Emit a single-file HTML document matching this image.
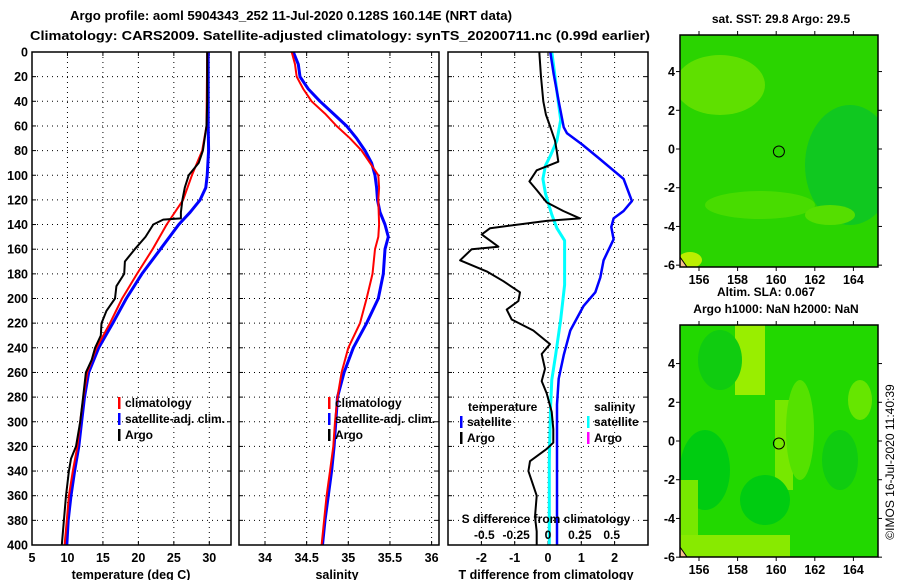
<!DOCTYPE html>
<html><head><meta charset="utf-8"><style>
html,body{margin:0;padding:0;background:#fff}
svg{display:block;font-family:"Liberation Sans",sans-serif;font-weight:bold}
</style></head><body>
<svg id="fig" width="900" height="580" viewBox="0 0 900 580" xmlns="http://www.w3.org/2000/svg">
<text x="291" y="20" font-size="13" text-anchor="middle" textLength="442" lengthAdjust="spacingAndGlyphs">Argo profile: aoml 5904343_252 11-Jul-2020 0.128S 160.14E (NRT data)</text>
<text x="340" y="40" font-size="13" text-anchor="middle" textLength="620" lengthAdjust="spacingAndGlyphs">Climatology: CARS2009. Satellite-adjusted climatology: synTS_20200711.nc (0.99d earlier)</text>
<g id="p1"></g>
<g id="p2"></g>
<g id="p3"></g>
<g id="maps"></g>
<text transform="translate(894,462) rotate(-90)" font-size="12" font-weight="normal" text-anchor="middle">©IMOS 16-Jul-2020 11:40:39</text>
</svg>
<script>
// ---- data ----
const depthTicks=[0,20,40,60,80,100,120,140,160,180,200,220,240,260,280,300,320,340,360,380,400];
const tempTicks=[5,10,15,20,25,30];
const salTicks=[34,34.5,35,35.5,36];
const tdiffTicks=[-2,-1,0,1,2];
const sdiffTicks=[-0.5,-0.25,0,0.25,0.5];
const sdiffTickLabels=["-0.5","-0.25","0","0.25","0.5"];
const lonTicks=[156,158,160,162,164];
const latTicks=[4,2,0,-2,-4,-6];

const climTDepth=[0,60,80,100,120,140,160,180,200,220,240,260,280,300,320,340,360,380,400];
const climT=[29.7,29.6,29.0,27.55,26.3,24.0,22.0,19.8,17.7,16.0,14.1,12.8,12.25,11.8,11.4,10.75,10.2,9.9,9.6];
const satTDepth=[0,60,80,100,110,120,130,140,160,180,200,220,240,260,280,300,320,340,360,380,400];
const satT=[29.85,29.85,29.9,29.7,29.5,28.7,27.3,25.7,23.1,20.5,18.3,16.4,14.4,13.0,12.4,12.0,11.6,11.0,10.5,10.1,9.9];
const argoTDepth=[0,40,60,80,90,100,110,120,130,135,136,140,150,160,170,180,190,200,210,220,230,240,250,260,280,300,320,330,340,360,380,400];
const argoT=[29.7,29.7,29.6,29.1,28.5,27.1,26.55,26.2,26.0,26.0,23.5,22.1,21.0,19.5,18.1,18.0,16.9,16.7,15.5,14.8,14.7,13.9,13.4,12.6,12.2,11.8,11.2,10.5,10.2,9.8,9.5,9.2];

const climSDepth=[0,10,20,30,40,50,60,70,80,90,100,110,120,140,150,160,180,200,220,240,260,280,300,320,340,360,380,400];
const climS=[34.32,34.36,34.38,34.46,34.56,34.72,34.86,35.02,35.16,35.26,35.36,35.37,35.36,35.37,35.36,35.32,35.29,35.22,35.14,35.0,34.92,34.87,34.84,34.82,34.78,34.74,34.71,34.68];
const satSDepth=[0,10,20,30,40,50,60,70,80,90,100,110,120,130,140,150,160,180,200,220,240,260,280,300,320,340,360,380,400];
const satS=[34.34,34.4,34.42,34.52,34.66,34.82,34.98,35.1,35.2,35.28,35.32,35.34,35.35,35.38,35.44,35.48,35.44,35.42,35.36,35.22,35.06,34.95,34.87,34.85,34.83,34.8,34.76,34.72,34.69];

const argoTdDepth=[0,20,40,51,60,72,80,89,96,105,112,122,129,135,137,143,148,158,160,169,178,186,195,202,209,217,226,237,245,257,267,277,292,306,317,322,332,340,360,377,389,400];
const argoTd=[-0.26,-0.21,-0.14,-0.06,0.06,0.21,0.26,0.31,-0.34,-0.56,-0.34,-0.04,0.46,0.96,-0.04,-1.74,-1.99,-1.49,-2.29,-2.64,-1.84,-1.34,-0.84,-0.89,-1.24,-1.09,-0.44,0.06,-0.19,-0.09,-0.19,-0.04,0.11,0.16,0.16,-0.04,-0.54,-0.59,-0.34,-0.39,-0.34,-0.34];
const satTdDepth=[0,18,40,61,66,75,86,103,121,129,135,142,152,169,183,195,206,226,246,265,286,303,400];
const satTd=[0.07,0.17,0.32,0.47,0.57,1.02,1.52,2.27,2.52,2.27,1.97,1.90,1.97,1.67,1.57,1.42,1.07,0.67,0.47,0.32,0.27,0.27,0.27];
const satSdDepth=[0,40,55,72,84,92,103,115,132,143,153,160,189,217,246,266,289,332,400];
const satSd=[0.03,0.08,0.10,0.07,0.02,-0.02,-0.04,-0.02,0.03,0.07,0.13,0.13,0.13,0.10,0.06,0.03,0.02,0.01,0.01];

const argoLon=[160.14];
const argoLat=[-0.128];

// ---- geometry ----
const NS="http://www.w3.org/2000/svg";
const Y0=52,Y1=545;
const yD=d=>Y0+(d/400)*(Y1-Y0);
function mk(tag,attrs,parent){const e=document.createElementNS(NS,tag);for(const k in attrs)e.setAttribute(k,attrs[k]);parent.appendChild(e);return e;}
function txt(parent,x,y,s,anchor,size){const t=mk('text',{x:x,y:y,'font-size':size||12,'text-anchor':anchor||'start'},parent);t.textContent=s;return t;}
const p1=document.getElementById('p1'),p2=document.getElementById('p2'),p3=document.getElementById('p3'),maps=document.getElementById('maps');

function panel(g,x0,x1,xs,ticks,labels,showY){
  // grid
  ticks.forEach(v=>{const x=xs(v);const l=mk('line',{x1:x,x2:x,y1:Y0,y2:Y1,stroke:'#000','stroke-width':1,'stroke-dasharray':'1,4'},g);});
  depthTicks.forEach(d=>{const y=yD(d);if(d>0&&d<400){const l=mk('line',{x1:x0,x2:x1,y1:y,y2:y,stroke:'#000','stroke-width':1,'stroke-dasharray':'1,4'},g);}
    mk('line',{x1:x0,x2:x0+4,y1:y,y2:y,stroke:'#000'},g);mk('line',{x1:x1-4,x2:x1,y1:y,y2:y,stroke:'#000'},g);
    if(showY){const t=txt(g,28,y+4.5,String(d),'end',12.5);}});
  ticks.forEach((v,i)=>{const x=xs(v);mk('line',{x1:x,x2:x,y1:Y1-4,y2:Y1,stroke:'#000'},g);mk('line',{x1:x,x2:x,y1:Y0,y2:Y0+4,stroke:'#000'},g);
    if(labels){const t=txt(g,x,562,labels[i],'middle',12.5);}});
}
function frame(g,x0,x1){const r=mk('rect',{x:x0,y:Y0,width:x1-x0,height:Y1-Y0,fill:'none',stroke:'#000','stroke-width':1.5},g);}
function series(g,xs,vals,depths,color,w,name){
  const pts=vals.map((v,i)=>xs(v).toFixed(1)+','+yD(depths[i]).toFixed(1)).join(' ');
  const p=mk('polyline',{points:pts,fill:'none',stroke:color,'stroke-width':w,'stroke-linejoin':'round'},g);
  
  
}
function legendMark(g,x,y,color){mk('rect',{x:x,y:y-11,width:2.5,height:12,fill:color},g);}

// panel 1 temperature
const xT=v=>32+(v-5)*(209.3-32)/25;
panel(p1,32,231,xT,tempTicks,tempTicks.map(String),true);
series(p1,xT,satT,satTDepth,'#0000ff',3,'satellite-temperature-line');
series(p1,xT,climT,climTDepth,'#ff0000',2,'climatology-temperature-line');
series(p1,xT,argoT,argoTDepth,'#000000',2,'argo-temperature-line');
frame(p1,32,231);
[['climatology','#ff0000',408],['satellite-adj. clim.','#0000ff',424],['Argo','#000',440]].forEach(r=>{legendMark(p1,118,r[2],r[1]);const t=txt(p1,125,r[2]-1,r[0],'start',12);});
{const t=txt(p1,131,579,'temperature (deg C)','middle',12.5);}

// panel 2 salinity
const xS=v=>265+(v-34)*83.3;
panel(p2,239,439,xS,salTicks,salTicks.map(String),false);
series(p2,xS,satS,satSDepth,'#0000ff',3,'satellite-salinity-line');
series(p2,xS,climS,climSDepth,'#ff0000',2,'climatology-salinity-line');
frame(p2,239,439);
[['climatology','#ff0000',408],['satellite-adj. clim.','#0000ff',424],['Argo','#000',440]].forEach(r=>{legendMark(p2,328,r[2],r[1]);const t=txt(p2,335,r[2]-1,r[0],'start',12);});
{const t=txt(p2,337,579,'salinity','middle',12.5);}

// panel 3 differences
const xTd=v=>548+v*33.3;
const xSd=v=>548+v*127.4;
panel(p3,448,648,xTd,tdiffTicks,tdiffTicks.map(String),false);
series(p3,xSd,satSd,satSdDepth,'#00ffff',3,'satellite-salinity-difference-line');
series(p3,xTd,satTd,satTdDepth,'#0000ff',2.5,'satellite-temperature-difference-line');
series(p3,xTd,argoTd,argoTdDepth,'#000000',2,'argo-temperature-difference-line');
frame(p3,448,648);
{let t=txt(p3,468,411,'temperature','start',12);
 t=txt(p3,594,411,'salinity','start',12);
 legendMark(p3,460,427,'#0000ff');t=txt(p3,467,426,'satellite','start',12);
 legendMark(p3,460,443,'#000');t=txt(p3,467,442,'Argo','start',12);
 legendMark(p3,587,427,'#00ffff');t=txt(p3,594,426,'satellite','start',12);
 legendMark(p3,587,443,'#ff00ff');t=txt(p3,594,442,'Argo','start',12);
 t=txt(p3,546,523,'S difference from climatology','middle',12);
 sdiffTicks.forEach((v,i)=>{const l=txt(p3,xSd(v),539,sdiffTickLabels[i],'middle',12);});
 t=txt(p3,546,579,'T difference from climatology','middle',12.5);}

// maps
function map(top,bottom,zeroY,kind){
  const g=mk('g',{},maps);
  const x0=680,x1=878;
  const xL=v=>699+(v-156)*19.3, yL=v=>zeroY-v*19.36;
  mk('rect',{x:x0,y:top,width:x1-x0,height:bottom-top,fill:kind==='sst'?'#2ad400':'#22d800'},g);
  const cp='clip'+kind;const c=mk('clipPath',{id:cp},g);mk('rect',{x:x0,y:top,width:x1-x0,height:bottom-top},c);
  const b=mk('g',{'clip-path':'url(#'+cp+')'},g);
  if(kind==='sst'){
    mk('ellipse',{cx:720,cy:85,rx:45,ry:30,fill:'#5fe000'},b);
    mk('ellipse',{cx:850,cy:165,rx:45,ry:60,fill:'#10c820'},b);
    mk('ellipse',{cx:760,cy:205,rx:55,ry:14,fill:'#48dc00'},b);
    mk('ellipse',{cx:830,cy:215,rx:25,ry:10,fill:'#55de00'},b);
    mk('ellipse',{cx:690,cy:260,rx:12,ry:8,fill:'#bbee00'},b);
  }else{
    mk('rect',{x:735,y:top,width:30,height:70,fill:'#99ee00'},b);
    mk('rect',{x:775,y:400,width:18,height:90,fill:'#77e800'},b);
    mk('ellipse',{cx:800,cy:430,rx:14,ry:50,fill:'#55e200'},b);
    mk('ellipse',{cx:720,cy:360,rx:22,ry:30,fill:'#10cc10'},b);
    mk('ellipse',{cx:705,cy:470,rx:25,ry:40,fill:'#00cc11'},b);
    mk('ellipse',{cx:765,cy:500,rx:25,ry:25,fill:'#00cc11'},b);
    mk('ellipse',{cx:840,cy:460,rx:18,ry:30,fill:'#10cc10'},b);
    mk('ellipse',{cx:860,cy:400,rx:12,ry:20,fill:'#66e600'},b);
    mk('rect',{x:680,y:480,width:18,height:80,fill:'#77e800'},b);
    mk('rect',{x:680,y:535,width:110,height:25,fill:'#88ea00'},b);
  }
  mk('polygon',{points:(x0)+','+(bottom-10)+' '+(x0+7)+','+bottom+' '+x0+','+bottom,fill:'#f8c090',stroke:'#000','stroke-width':1},b);
  mk('rect',{x:x0,y:top,width:x1-x0,height:bottom-top,fill:'none',stroke:'#000','stroke-width':1.5},g);
  lonTicks.forEach(v=>{const x=xL(v);mk('line',{x1:x,x2:x,y1:top-4,y2:top,stroke:'#000'},g);mk('line',{x1:x,x2:x,y1:bottom,y2:bottom+4,stroke:'#000'},g);
    const t=txt(g,x,bottom+17,String(v),'middle',12.5);});
  latTicks.forEach(v=>{const y=yL(v);mk('line',{x1:x0-4,x2:x0,y1:y,y2:y,stroke:'#000'},g);mk('line',{x1:x1,x2:x1+4,y1:y,y2:y,stroke:'#000'},g);
    const t=txt(g,675,y+4.5,String(v),'end',12.5);});
  argoLon.forEach((lo,i)=>{const m=mk('circle',{cx:xL(lo),cy:yL(argoLat[i]),r:5.5,fill:'none',stroke:'#000','stroke-width':1},g);});
}
map(35,267,149,'sst');
map(325,557,441,'sla');
{let t=txt(maps,781,23,'sat. SST: 29.8 Argo: 29.5','middle',12);
 t=txt(maps,766,296,'Altim. SLA: 0.067','middle',12);
 t=txt(maps,776,313,'Argo h1000: NaN h2000: NaN','middle',12);}
</script>
</body></html>
